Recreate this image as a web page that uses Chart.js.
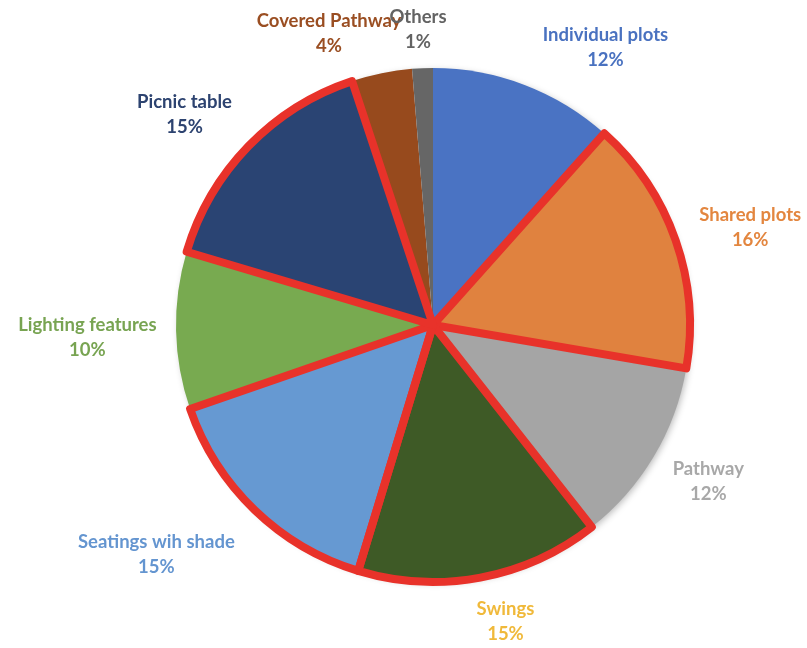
<!DOCTYPE html>
<html>
<head>
<meta charset="utf-8">
<script src="https://cdn.jsdelivr.net/npm/chart.js@4.4.1/dist/chart.umd.min.js"></script>
<style>
  html, body { margin: 0; padding: 0; background: #ffffff; }
  #wrap { width: 807px; height: 648px; position: relative; }
</style>
</head>
<body>
<div id="wrap"><canvas id="c" width="807" height="648"></canvas></div>
<script>
// ---- data ----
const categories = ['Individual plots', 'Shared plots', 'Pathway', 'Swings', 'Seatings wih shade',
                    'Lighting features', 'Picnic table', 'Covered Pathway', 'Others'];
const shares = [11.6, 16.1, 11.7, 15.3, 15.0, 9.9, 15.3, 3.8, 1.3];
const highlighted = ['Shared plots', 'Swings', 'Seatings wih shade', 'Picnic table'];

// ---- styles ----
const sliceColors = ['#4A73C3', '#E0823F', '#A5A5A5', '#3E5A26', '#6699D2', '#78AA50', '#2A4473', '#974A1D', '#666666'];
const labelColors = ['#4A72C0', '#E3863F', '#A8A8A8', '#F0B93A', '#6495D0', '#78A452', '#2D4370', '#9A4E22', '#636363'];
const labelNudge = [[56, -3], [19, 0], [16, 6], [18, 7.5], [-40, 18], [-13, 6], [-24, -6], [-37, -3], [-3, -2]];
const HL_COLOR = '#E8322A';
const FONT = "bold 18.5px Lato, 'Open Sans', sans-serif";

const shadowPlugin = {
  id: 'pieShadow',
  beforeDatasetsDraw(chart) {
    const arc = chart.getDatasetMeta(0).data[0];
    if (!arc) return;
    const { x, y, outerRadius } = arc.getProps(['x', 'y', 'outerRadius'], true);
    const ctx = chart.ctx;
    ctx.save();
    ctx.shadowColor = 'rgba(0,0,0,0.28)';
    ctx.shadowBlur = 7;
    ctx.shadowOffsetX = 2;
    ctx.shadowOffsetY = 2;
    ctx.fillStyle = '#ffffff';
    ctx.beginPath();
    ctx.arc(x, y, outerRadius - 1, 0, Math.PI * 2);
    ctx.fill();
    ctx.restore();
  }
};

const highlightPlugin = {
  id: 'highlightBorder',
  afterDatasetsDraw(chart) {
    const ctx = chart.ctx;
    const meta = chart.getDatasetMeta(0);
    ctx.save();
    ctx.strokeStyle = HL_COLOR;
    ctx.lineWidth = 8;
    ctx.lineJoin = 'round';
    meta.data.forEach((arc, i) => {
      if (!highlighted.includes(categories[i])) return;
      const p = arc.getProps(['x', 'y', 'startAngle', 'endAngle', 'outerRadius'], true);
      ctx.beginPath();
      ctx.moveTo(p.x, p.y);
      ctx.arc(p.x, p.y, p.outerRadius, p.startAngle, p.endAngle);
      ctx.closePath();
      ctx.stroke();
    });
    ctx.restore();
  }
};

const labelPlugin = {
  id: 'outsideLabels',
  afterDraw(chart) {
    const ctx = chart.ctx;
    const meta = chart.getDatasetMeta(0);
    const total = shares.reduce((a, b) => a + b, 0);
    ctx.save();
    ctx.font = FONT;
    ctx.textAlign = 'center';
    ctx.textBaseline = 'middle';
    meta.data.forEach((arc, i) => {
      const p = arc.getProps(['x', 'y', 'startAngle', 'endAngle', 'outerRadius'], true);
      const mid = (p.startAngle + p.endAngle) / 2;
      const s = Math.cos(mid), c = Math.sin(mid); // screen direction
      const name = categories[i];
      const pct = Math.round(shares[i] / total * 100) + '%';
      const w = Math.max(ctx.measureText(name).width, ctx.measureText(pct).width);
      const h = 50;
      const D = p.outerRadius + 12;
      const cx = p.x + D * s + s * w / 2 * (115 / 125) + labelNudge[i][0];
      const cy = p.y + D * c + c * h / 2 + labelNudge[i][1];
      ctx.fillStyle = labelColors[i];
      ctx.fillText(name, cx, cy - 12.5);
      ctx.fillText(pct, cx, cy + 12.5);
    });
    ctx.restore();
  }
};

new Chart(document.getElementById('c'), {
  type: 'pie',
  data: {
    labels: categories,
    datasets: [{
      data: shares,
      backgroundColor: sliceColors,
      borderWidth: 0,
      hoverBorderWidth: 0,
      hoverOffset: 0
    }]
  },
  options: {
    responsive: false,
    animation: false,
    events: [],
    layout: { padding: { top: 68, bottom: 66, left: 59, right: 0 } },
    plugins: {
      legend: { display: false },
      tooltip: { enabled: false }
    }
  },
  plugins: [shadowPlugin, highlightPlugin, labelPlugin]
});
</script>
</body>
</html>
